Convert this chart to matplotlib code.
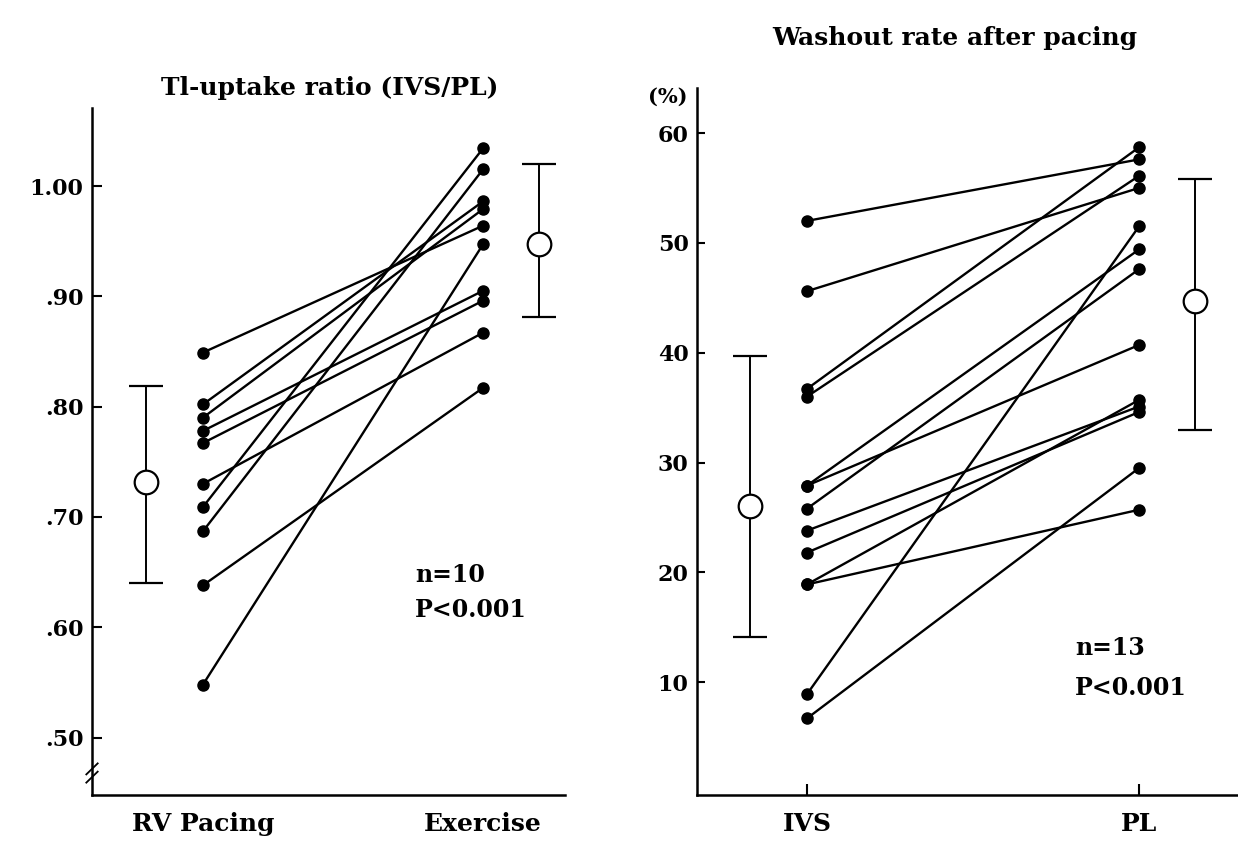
import matplotlib
matplotlib.use("Agg")
import matplotlib.pyplot as plt

# Tl-uptake ratio (IVS/PL), paired values
rv_pacing = [0.849, 0.802, 0.790, 0.778, 0.767, 0.730, 0.709, 0.687, 0.638, 0.548]
exercise = [0.964, 0.986, 0.979, 0.905, 0.896, 0.867, 1.034, 1.015, 0.817, 0.947]
left_mean = [0.732, 0.947]
left_sd_low = [0.640, 0.881]
left_sd_high = [0.819, 1.020]
left_labels = ["RV Pacing", "Exercise"]
left_ticks = [0.50, 0.60, 0.70, 0.80, 0.90, 1.00]
left_ticklabels = [".50", ".60", ".70", ".80", ".90", "1.00"]

# Washout rate after pacing (%), paired values
ivs = [52.0, 45.6, 36.7, 36.0, 27.9, 27.9, 25.8, 23.8, 21.8, 18.9, 18.9, 8.9, 6.7]
pl = [57.6, 55.0, 58.7, 56.1, 49.4, 40.7, 47.6, 35.1, 34.6, 35.7, 25.7, 51.5, 29.5]
right_mean = [26.0, 44.7]
right_sd_low = [14.1, 33.0]
right_sd_high = [39.7, 55.8]
right_labels = ["IVS", "PL"]
right_ticks = [10, 20, 30, 40, 50, 60]

font = {"family": "DejaVu Serif", "weight": "bold"}
W, H = 1238, 841
fig = plt.figure(figsize=(W / 100, H / 100), dpi=100)


def style_axes(ax):
    for s in ["top", "right"]:
        ax.spines[s].set_visible(False)
    for s in ["left", "bottom"]:
        ax.spines[s].set_linewidth(1.8)
    ax.tick_params(direction="in", length=7, width=1.5, pad=6)
    for lab in ax.get_yticklabels() + ax.get_xticklabels():
        lab.set_fontfamily(font["family"])
        lab.set_fontweight("bold")
    ax.tick_params(axis="y", labelsize=16)
    ax.tick_params(axis="x", labelsize=18)


def draw_panel(ax, pre, post, means, lo, hi, mean_x):
    for a, b in zip(pre, post):
        ax.plot([1, 2], [a, b], "-", color="black", lw=1.7, zorder=2)
    ax.plot([1] * len(pre), pre, "o", color="black", ms=8, zorder=3)
    ax.plot([2] * len(post), post, "o", color="black", ms=8, zorder=3)
    err = [[m - l for m, l in zip(means, lo)], [h - m for m, h in zip(means, hi)]]
    ax.errorbar(mean_x, means, yerr=err, fmt="o", ms=17, mfc="white", mec="black",
                mew=1.6, ecolor="black", elinewidth=1.4, capsize=12, capthick=1.6, zorder=3)


# left panel
ax1 = fig.add_axes([92 / W, (H - 795) / H, (565 - 92) / W, (795 - 108) / H])
draw_panel(ax1, rv_pacing, exercise, left_mean, left_sd_low, left_sd_high, [0.796, 2.2])
ax1.set_xlim(0.604, 2.293)
ax1.set_ylim(0.448, 1.0707)
ax1.set_yticks(left_ticks)
ax1.set_yticklabels(left_ticklabels)
ax1.set_xticks([1, 2])
ax1.set_xticklabels(left_labels)
style_axes(ax1)
ax1.tick_params(axis="x", length=0, pad=12)
# axis break marks
for dy in (0.0, 0.012):
    ax1.plot([-0.012, 0.012], [0.018 + dy, 0.034 + dy], transform=ax1.transAxes,
             color="black", lw=1.3, clip_on=False)
fig.text(330 / W, 1 - 88 / H, "Tl-uptake ratio (IVS/PL)", ha="center", va="center",
         fontsize=18, **font)
fig.text(415 / W, 1 - 575 / H, "n=10", ha="left", va="center", fontsize=17, **font)
fig.text(415 / W, 1 - 610 / H, "P<0.001", ha="left", va="center", fontsize=17, **font)

# right panel
ax2 = fig.add_axes([697 / W, (H - 795) / H, (1238 - 697) / W, (795 - 88) / H])
draw_panel(ax2, ivs, pl, right_mean, right_sd_low, right_sd_high, [0.83, 2.17])
ax2.set_xlim(0.669, 2.298)
ax2.set_ylim(-0.27, 64.1)
ax2.set_yticks(right_ticks)
ax2.set_xticks([1, 2])
ax2.set_xticklabels(right_labels)
style_axes(ax2)
ax2.tick_params(axis="y", length=6)
ax2.tick_params(axis="x", length=8, pad=12)
fig.text(688 / W, 1 - 97 / H, "(%)", ha="right", va="center", fontsize=15, **font)
fig.text(955 / W, 1 - 38 / H, "Washout rate after pacing", ha="center", va="center",
         fontsize=18, **font)
fig.text(1075 / W, 1 - 648 / H, "n=13", ha="left", va="center", fontsize=17, **font)
fig.text(1075 / W, 1 - 688 / H, "P<0.001", ha="left", va="center", fontsize=17, **font)

fig.savefig("out.png", dpi=100)
